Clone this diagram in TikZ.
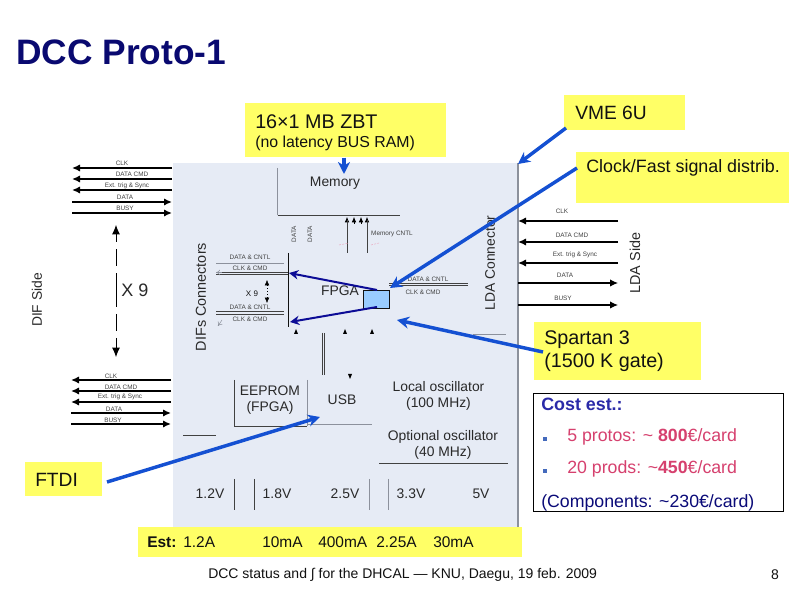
\documentclass[tikz,border=0pt]{standalone}
\usepackage{fontspec}
\setmainfont{Liberation Sans}
\usetikzlibrary{arrows.meta,positioning,calc}
\definecolor{dccpanel}{HTML}{E6EBF5}
\definecolor{dccyellow}{HTML}{FFFF66}
\definecolor{dccblue}{HTML}{1450D2}
\definecolor{dccnavy}{HTML}{0C0C96}
\definecolor{dccchip}{HTML}{99CCFF}
\definecolor{dccpink}{HTML}{D6406E}
\definecolor{dcccost}{HTML}{2A2AA8}
\definecolor{dccink}{HTML}{111111}
\definecolor{dccgrey}{HTML}{8C919C}
\tikzset{
  dccnote/.style  ={rectangle, fill=dccyellow, inner sep=0pt, anchor=north west},
  dcctxt/.style   ={inner sep=0pt, font=\fontsize{14.4}{17}\selectfont, text=dccink, align=left},
  dccleft/.style  ={dcctxt, anchor=west},
  dccdraw/.style  ={inner sep=0pt, font=\fontsize{10.4}{12.3}\selectfont, text=dccink!90, align=center},
  dcctiny/.style  ={inner sep=0pt, font=\fontsize{4.8}{5}\selectfont, text=dccink!80},
  dccside/.style  ={dccdraw, rotate=90},
  dccsig/.style   ={-{Latex[length=6pt,width=5.5pt]}, line width=1.3pt, draw=black},
  dccline/.style  ={line width=0.6pt, draw=dccink!80},
  dccthin/.style  ={line width=0.6pt, draw=dccgrey},
  dcccall/.style  ={-{Stealth[length=9pt,width=9pt]}, line width=2.6pt, draw=dccblue},
  dccfpga/.style  ={-{Stealth[length=7pt,width=7pt]}, line width=1.5pt, draw=dccnavy},
  dccopen/.style  ={-{To[length=3pt,width=4pt]}, line width=0.4pt, draw=dccgrey},
  dcccost/.style  ={dccleft, font=\fontsize{13.3}{15}\selectfont, text=dccpink},
}
% one bundle of five signal lines: name, left x, right x, three y going left, two y going right, their width
\newcommand{\dccbundle}[6]{%
  \foreach \y [count=\n] in {#4}{%
    \coordinate (#1r\n) at (#3,\y);
    \coordinate (#1l\n) at (#2,\y);
    \draw[dccsig] (#1r\n) -- (#1l\n);}
  \foreach \y [count=\n] in {#5}{%
    \coordinate (#1a\n) at (#2,\y);
    \coordinate (#1b\n) at (#3,\y);
    \draw[dccsig, line width=#6] (#1a\n) -- (#1b\n);}
}
\begin{document}
\begin{tikzpicture}[x=0.75pt,y=-0.75pt]
  \path[use as bounding box, fill=white] (0,0) rectangle (794,595);
  \node[inner sep=0pt, anchor=west, font=\fontsize{26.5}{28}\selectfont\bfseries, text=dccnavy!75!black] (title) at (16,52) {DCC Proto-1};
  % board panel
  \fill[dccpanel] (173,163) rectangle (518,530);
  \draw[line width=0.9pt, draw=dccgrey] (518,163) -- (518,530);
  % memory
  \draw[dccthin] (277.5,168) -- (277.5,215);
  \draw[dccline] (277.5,215) -- (400,215);
  \node[dccdraw] (memory) at (335,183) {Memory};
  \foreach \x in {347,354,361,367}{\draw[-{Latex[length=4pt,width=3.5pt]}, draw=black, line width=0.5pt] (\x,224) -- (\x,217);}
  \draw[dccline] (347,253) -- (347,220);
  \draw[dccline] (367,253) -- (367,220);
  \node[dcctiny, rotate=90] (memdata1) at (294,234) {DATA};
  \node[dcctiny, rotate=90] (memdata2) at (310,234) {DATA};
  \node[dcctiny] (memcntl) at (392,234) {Memory CNTL};
  \draw[dccpink!50, line width=0.3pt, dash pattern=on 1.5pt off 1pt] (339,245) -- (349,243);
  \draw[dccpink!50, line width=0.3pt, dash pattern=on 1.5pt off 1pt] (371,245) -- (379,243);
  % fpga
  \draw[line width=0.7pt, draw=dccink] (288.5,253) -- (288.5,327);
  \node[dccdraw] (fpga) at (340,291) {FPGA};
  \node[rectangle, draw=dccink, fill=dccchip, line width=0.6pt, minimum width=19.5pt, minimum height=13.5pt, inner sep=0pt] (chip) at (376,299) {};
  \draw[dccline] (389,283) -- (468,283);
  \draw[dccline] (389,285.5) -- (468,285.5);
  \node[dcctiny] (lda1) at (428,279) {DATA \& CNTL};
  \node[dcctiny] (lda2) at (423,292) {CLK \& CMD};
  % difs connectors
  \draw[dccthin] (216,263) -- (284,263);
  \draw[dccline] (216,272) -- (288,272);
  \draw[dccline] (216,274) -- (288,274);
  \draw[dccline] (216,311) -- (284,311);
  \draw[dccline] (216,314) -- (284,314);
  \node[dcctiny] (dif1) at (250,257) {DATA \& CNTL};
  \node[dcctiny] (dif2) at (250,268) {CLK \& CMD};
  \node[dcctiny] (dif3) at (250,307) {DATA \& CNTL};
  \node[dcctiny] (dif4) at (250,319) {CLK \& CMD};
  \node[inner sep=0pt, font=\fontsize{6}{7}\selectfont, text=dccink] (x9small) at (252,294) {X 9};
  \draw[{Latex[length=4pt,width=3.5pt]}-{Latex[length=4pt,width=3.5pt]}, line width=0.3pt, dotted] (267,280) -- (267,303);
  \draw[dccopen] (222,272.5) -- (216,272.5);
  \draw[dccopen] (222,320) -- (218,326);
  \foreach \x in {296,345,372}{\fill (\x,334) -- (\x-2,334) -- (\x,329) -- (\x+2,334) -- cycle;}
  \draw[dccthin] (473,334) -- (506,334);
  % usb and eeprom
  \draw[dccline] (322,333) -- (322,375);
  \draw[dccline] (324.5,333) -- (324.5,375);
  \fill (348,374) -- (352,374) -- (350,379) -- cycle;
  \draw[dccline] (234,380) -- (234,426) -- (307,426);
  \draw[dccthin] (307,380) -- (307,426);
  \draw[dccthin] (307,424) -- (372,424);
  \node[dccdraw] (eeprom) at (270,400) {EEPROM\\(FPGA)};
  \node[dccdraw] (usb) at (342,400) {USB};
  \node[dccdraw] (localosc) at (438.5,396) {Local oscillator\\(100 MHz)};
  \node[dccdraw] (optosc) at (443,445) {Optional oscillator\\(40 MHz)};
  \draw[dccline] (379,463) -- (508,463);
  \draw[dccline] (183,435) -- (216,435);
  % power
  \foreach \x/\v in {210/1.2V,277/1.8V,345/2.5V,411/3.3V,481/5V}{\node[dccdraw] at (\x,494) {\v};}
  \draw[dccline] (234,479) -- (234,510);
  \draw[dccline] (254,479) -- (254,510);
  \draw[dccthin] (369,479) -- (369,510);
  \draw[dccthin] (388,479) -- (388,510);
  % signal bundles
  \dccbundle{top}{72}{172}{168,179,190}{202,213}{1.5pt}
  \dccbundle{bot}{71}{171}{380,391,402}{413,424}{1.3pt}
  \dccbundle{lda}{518}{618}{221,242,263}{283,305}{0.8pt}
  \foreach \x/\y/\s in {122/163/CLK,132/174/DATA CMD,127/186/Ext. trig \& Sync,125/197/DATA,125/208/BUSY,
      111/376/CLK,121/387/DATA CMD,120/397/Ext. trig \& Sync,114/409/DATA,113/420/BUSY,
      562/211/CLK,572/235/DATA CMD,575/255/Ext. trig \& Sync,565/275/DATA,563/298/BUSY}{
    \node[dcctiny] at (\x,\y) {\s};}
  \coordinate (x9top) at (116,225);
  \coordinate (x9bot) at (116,357);
  \draw[-{Latex[length=7pt,width=6pt]}, line width=0.7pt, draw=black, dash pattern=on 13pt off 5pt] (116,290) -- (x9top);
  \draw[-{Latex[length=7pt,width=6pt]}, line width=0.7pt, draw=black, dash pattern=on 13pt off 5pt] (116,290) -- (x9bot);
  \node[dccdraw, anchor=west, font=\fontsize{13.5}{15}\selectfont] (xnine) at (121,290) {X 9};
  \node[dccside] (difside) at (37,300) {DIF Side};
  \node[dccside, font=\fontsize{10.8}{12.3}\selectfont] (difcon) at (201,297) {DIFs Connectors};
  \node[dccside] (ldacon) at (490,263) {LDA Connector};
  \node[dccside, font=\fontsize{10.8}{12.3}\selectfont] (ldaside) at (635,263) {LDA Side};
  % yellow notes
  \node[dccnote, minimum width=150.75pt, minimum height=40.5pt] (zbt) at (245,103) {};
  \node[dccleft, font=\fontsize{14.8}{16}\selectfont] at (255,122) {16×1 MB ZBT};
  \node[dccleft, font=\fontsize{11.9}{14}\selectfont] at (255,143) {(no latency BUS RAM)};
  \node[dccnote, minimum width=90.75pt, minimum height=26.25pt] (vme) at (564,95) {};
  \node[dcctxt] at (611,113) {VME 6U};
  \node[dccnote, minimum width=159.75pt, minimum height=38.25pt] (clock) at (576,152) {};
  \node[dccleft, font=\fontsize{13.4}{15}\selectfont] at (586,168) {Clock/Fast signal distrib.};
  \node[dccnote, minimum width=125.25pt, minimum height=43.5pt] (spartan) at (534,322) {};
  \node[dccleft, font=\fontsize{14.8}{17.2}\selectfont] at (544,351) {Spartan 3\\(1500 K gate)};
  \node[dccnote, minimum width=57.75pt, minimum height=25.5pt] (ftdi) at (25,462) {};
  \node[dccleft] at (35,480) {FTDI};
  \node[dccnote, minimum width=288pt, minimum height=22.5pt] (est) at (138,527) {};
  \node[dccleft, font=\fontsize{11.6}{14}\selectfont\bfseries] at (147,542) {Est:};
  \foreach \x/\s in {183/1.2A,262/10mA,318/400mA,376/2.25A,433/30mA}{
    \node[dccleft, font=\fontsize{11.6}{14}\selectfont] at (\x,542) {\s};}
  % callouts
  \coordinate (vmeend) at (518,164);
  \coordinate (clockend) at (390,288);
  \coordinate (memend) at (344,174);
  \coordinate (spartanend) at (397,320);
  \coordinate (ftdiend) at (320,417);
  \draw[dcccall] (566,128) -- (vmeend);
  \draw[dcccall] (577,168) -- (clockend);
  \draw[dcccall] (zbt.south -| memend) -- (memend);
  \draw[dcccall] (543,352) -- (spartanend);
  \draw[dcccall] (107,482) -- (ftdiend);
  \coordinate (fpgaup) at (289,273);
  \coordinate (fpgadown) at (290,322);
  \draw[dccfpga] (377,290) -- (fpgaup);
  \draw[dccfpga] (377,307) -- (fpgadown);
  % cost box
  \node[rectangle, draw=black, fill=white, line width=0.7pt, minimum width=187.5pt, minimum height=88.5pt, inner sep=0pt, anchor=north west] (cost) at (533,393) {};
  \node[dccleft, font=\fontsize{13.4}{14}\selectfont\bfseries, text=dcccost] at (541,404) {Cost est.:};
  \foreach \y/\s in {437/{5 protos: \textasciitilde{} \textbf{800}€/card},469/{20 prods: \textasciitilde\textbf{450}€/card}}{
    \node[dcccost] at (567,\y) {\s};
    \fill[dccblue!60!dccgrey] (542.5,\y) rectangle ++(4,4);}
  \node[dccleft, font=\fontsize{13.3}{14}\selectfont, text=dccnavy!80!black] (comp) at (541,503) {(Components: \textasciitilde230€/card)};
  % footer
  \node[dccleft, font=\fontsize{10.5}{12}\selectfont] (foot) at (208,575) {DCC status and ∫ for the DHCAL — KNU, Daegu, 19 feb. 2009};
  \node[dcctxt, font=\fontsize{10.5}{12}\selectfont] (page) at (775,575) {8};
\end{tikzpicture}
\end{document}
